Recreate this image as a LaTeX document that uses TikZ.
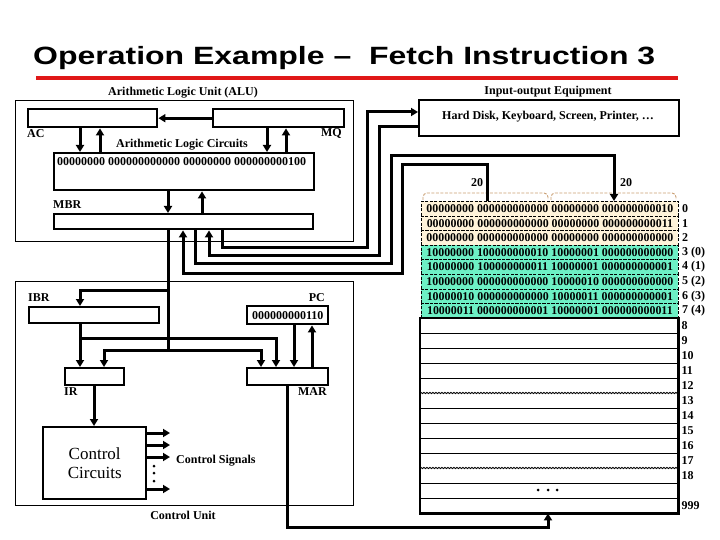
\documentclass[tikz,border=0pt]{standalone}
\usepackage{fontspec}
\setmainfont{Liberation Serif}
\newfontfamily\titlefont{Liberation Sans}
\usetikzlibrary{arrows.meta,decorations.pathmorphing}
\definecolor{cream}{HTML}{FFF3DA}
\definecolor{aqua}{HTML}{6DF0C5}
\definecolor{tanbr}{HTML}{C99E72}
\definecolor{titlered}{HTML}{E01818}
\begin{document}
\begin{tikzpicture}[x=1pt,y=-1pt,
  unitbox/.style={draw, line width=0.9pt, inner sep=0pt, anchor=north west},
  reg/.style={draw, line width=2.4pt, fill=white, inner sep=0pt, anchor=north west},
  bus/.style={line width=3pt},
  arr/.style={line width=3pt, -{Triangle[length=7pt,width=8pt]}},
  lbl/.style={font=\fontsize{12}{14}\selectfont\bfseries, inner sep=0pt},
  memrow/.style={draw, dash pattern=on 3pt off 1.5pt, line width=0.8pt, minimum width=257pt, minimum height=14.6pt, anchor=north west, inner sep=0pt, font=\fontsize{11.9}{14}\selectfont\bfseries},
  plainrow/.style={minimum width=258pt, minimum height=15pt, anchor=north west, inner sep=0pt},
  brace/.style={draw=tanbr, dash pattern=on 3pt off 1.5pt, line width=0.9pt, rounded corners=4pt},
]
\useasboundingbox (0,0) rectangle (720,540);

% title
\node[anchor=base west, inner sep=0pt, font=\titlefont\bfseries\fontsize{25}{28}\selectfont] (title) at (33,65) {\resizebox{622pt}{\height}{Operation Example –~ Fetch Instruction 3}};
\fill[titlered] (36,76) rectangle (678,80);

% ALU
\node[unitbox, minimum width=338pt, minimum height=141pt] (alu) at (15,100) {};
\node[lbl] (alulbl) at (183,93) {Arithmetic Logic Unit (ALU)};
\node[reg, minimum width=129pt, minimum height=18pt] (AC) at (27,108) {};
\node[reg, minimum width=131pt, minimum height=18pt] (MQ) at (212,108) {};
\node[lbl, anchor=west] (aclbl) at (27,134) {AC};
\node[lbl, anchor=east] (mqlbl) at (342,134) {MQ};
\node[reg, minimum width=260pt, minimum height=37pt] (ALC) at (53,152) {};
\node[lbl] (alclbl) at (182,145) {Arithmetic Logic Circuits};
\node[lbl, anchor=west] (alcbits) at (57,162) {00000000 000000000000 00000000 000000000100};
\node[reg, minimum width=259pt, minimum height=15pt] (MBR) at (53,213) {};
\node[lbl, anchor=west] (mbrlbl) at (53,205) {MBR};

% IO
\node[reg, minimum width=260pt, minimum height=36pt] (IO) at (418,99) {};
\node[lbl] (iolbl) at (548,92) {Input-output Equipment};
\node[lbl] (iotxt) at (548,117) {Hard Disk, Keyboard, Screen, Printer, …};

% Control unit
\node[unitbox, minimum width=338pt, minimum height=224pt] (cu) at (15,281) {};
\node[reg, minimum width=130pt, minimum height=16pt] (IBR) at (28,306) {};
\node[lbl, anchor=west] (ibrlbl) at (28,298) {IBR};
\node[reg, minimum width=81pt, minimum height=18pt, font=\fontsize{12}{14}\selectfont\bfseries] (PC) at (246,305) {000000000110};
\node[lbl, anchor=east] (pclbl) at (325,298) {PC};
\node[reg, minimum width=59pt, minimum height=17pt] (IR) at (64,367) {};
\node[lbl, anchor=west] (irlbl) at (64,392) {IR};
\node[reg, minimum width=81pt, minimum height=17pt] (MAR) at (246,367) {};
\node[lbl, anchor=east] (marlbl) at (327,392) {MAR};
\node[reg, minimum width=103pt, minimum height=72pt, align=center, font=\fontsize{17}{19}\selectfont] (CC) at (42,426) {Control\\Circuits};
\node[lbl, anchor=west] (cslbl) at (176,461) {Control Signals};
\node[lbl] (culbl) at (183,515) {Control Unit};

% Memory
\foreach \i/\bv/\col/\lab in {
  0/{00000000 000000000000 00000000 000000000010}/cream/0,
  1/{00000000 000000000000 00000000 000000000011}/cream/1,
  2/{00000000 000000000000 00000000 000000000000}/cream/2,
  3/{10000000 100000000010 10000001 000000000000}/aqua/{3 (0)},
  4/{10000000 100000000011 10000001 000000000001}/aqua/{4 (1)},
  5/{10000000 000000000000 10000010 000000000000}/aqua/{5 (2)},
  6/{10000010 000000000000 10000011 000000000001}/aqua/{6 (3)},
  7/{10000011 000000000001 10000001 000000000011}/aqua/{7 (4)}} {
  \node[memrow, fill=\col] (m\i) at (421,{201+14.6*\i}) {\bv};
  \node[lbl, anchor=west] (l\i) at ([xshift=3pt]m\i.east) {\lab};
}
\foreach \i in {8,...,20} {
  \node[plainrow] (m\i) at (420,{318+15*(\i-8)}) {};
}
\foreach \i in {8,...,18} {
  \node[lbl, anchor=west] (l\i) at ([xshift=3pt]m\i.east) {\i};
}
\node[lbl, anchor=west] (l20) at ([xshift=3pt]m20.east) {999};
\foreach \i in {9,10,11,12,14,15,16,17,19,20} {
  \draw[line width=0.9pt] (m\i.north west) -- (m\i.north east);
}
\foreach \i in {13,18} {
  \draw[line width=0.9pt, decorate, decoration={snake, amplitude=0.6pt, segment length=3pt}] (m\i.north west) -- (m\i.north east);
}
\draw[line width=2.4pt] (m8.north west) rectangle (m20.south east);
\fill (538,490) circle (1.5pt) (548,490) circle (1.5pt) (557,490) circle (1.5pt);
\draw[brace] (423,200) -- (423,193) -- (548,193) -- (548,200);
\draw[brace] (551,200) -- (551,193) -- (676,193) -- (676,200);
\node[lbl] (w1) at (477,183) {20};
\node[lbl] (w2) at (626,183) {20};

% ALU connectors
\draw[arr] (MQ.west) -- (AC.east);
\draw[arr] (AC.south -| 80,0) -- (ALC.north -| 80,0);
\draw[arr] (ALC.north -| 100,0) -- (AC.south -| 100,0);
\draw[arr] (MQ.south -| 267,0) -- (ALC.north -| 267,0);
\draw[arr] (ALC.north -| 286,0) -- (MQ.south -| 286,0);
\draw[arr] (ALC.south -| 168,0) -- (MBR.north -| 168,0);
\draw[arr] (MBR.north -| 202,0) -- (ALC.south -| 202,0);

% MBR <-> IO / memory
\draw[arr] (MBR.south -| 222,0) -- (222,247) -- (367,247) -- (367,112) -- (IO.west |- 0,112);
\draw[arr] (IO.west |- 0,127) -- (379,127) -- (379,255) -- (209,255) -- (MBR.south -| 209,0);
\draw[arr] (MBR.south -| 195,0) -- (195,263) -- (391,263) -- (391,156) -- (614,156) -- (m0.north -| 614,0);
\draw[arr] (m0.north -| 487,0) -- (487,165) -- (402,165) -- (402,273) -- (183,273) -- (MBR.south -| 183,0);

% MBR bus into control unit
\draw[arr] (MBR.south -| 168,0) -- (168,350) -| (IR.north -| 104,0);
\draw[arr] (168,350) -| (MAR.north -| 261,0);
\draw[arr] (168,290) -- (80,290) -- (IBR.north -| 80,0);
\draw[arr] (IBR.south -| 80,0) -- (IR.north -| 80,0);
\draw[arr] (80,338) -| (MAR.north -| 276,0);
\draw[arr] (PC.south -| 294,0) -- (MAR.north -| 294,0);
\draw[arr] (MAR.north -| 312,0) -- (PC.south -| 312,0);
\draw[arr] (IR.south -| 94,0) -- (CC.north -| 94,0);
\draw[arr] (MAR.south -| 287,0) -- (287,527) -- (548,527) -- (m20.south -| 548,0);

% control signals
\coordinate (s1) at (170,433);
\coordinate (s2) at (170,445);
\coordinate (s3) at (170,457);
\coordinate (s4) at (170,489);
\foreach \s in {s1,s2,s3,s4} {
  \draw[arr] (CC.east |- \s) -- (\s);
}
\fill (154,466) circle (1.5pt) (154,473) circle (1.5pt) (154,481) circle (1.5pt);
\end{tikzpicture}
\end{document}
